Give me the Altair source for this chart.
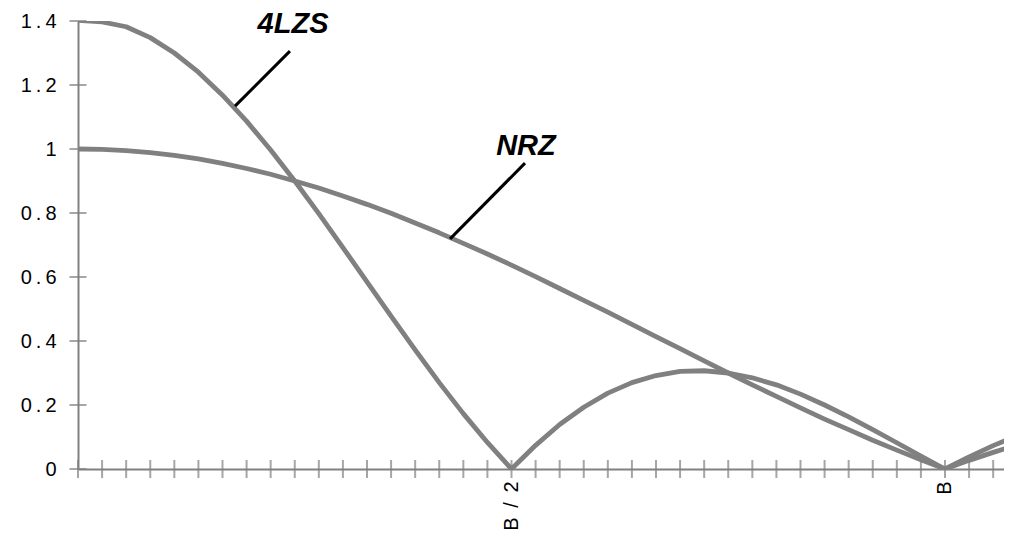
import altair as alt
import pandas as pd

# ---- data (x in tick steps, 18 = B/2, 36 = B) ----
freq_index = list(range(40))
nrz = [1.000, 0.999, 0.995, 0.989, 0.980, 0.969, 0.955, 0.939, 0.921, 0.900,
       0.878, 0.853, 0.827, 0.799, 0.769, 0.738, 0.705, 0.672, 0.637, 0.601,
       0.564, 0.527, 0.490, 0.452, 0.414, 0.376, 0.338, 0.300, 0.263, 0.227,
       0.191, 0.156, 0.123, 0.090, 0.059, 0.029, 0.000, 0.027, 0.052, 0.076]
lzs = [1.402, 1.397, 1.382, 1.348, 1.300, 1.240, 1.168, 1.087, 0.997, 0.900,
       0.798, 0.692, 0.585, 0.478, 0.372, 0.270, 0.173, 0.083, 0.000, 0.074,
       0.139, 0.193, 0.237, 0.270, 0.292, 0.305, 0.307, 0.300, 0.285, 0.263,
       0.234, 0.200, 0.163, 0.123, 0.082, 0.040, 0.000, 0.038, 0.073, 0.104]
series_names = ["NRZ", "4LZS"]

x_tick_values = list(range(39))
x_label_values = [18, 36]
x_label_texts = ["B / 2", "B"]
y_tick_values = [0, 0.2, 0.4, 0.6, 0.8, 1.0, 1.2, 1.4]

# annotations (label text, text anchor, leader line start/end) in data units
ann_text = ["4LZS", "NRZ"]
ann_x = [8.93, 18.60]
ann_y = [1.362, 0.981]
lead_x1 = [8.80, 18.56]
lead_y1 = [1.306, 0.956]
lead_x2 = [6.52, 15.45]
lead_y2 = [1.134, 0.719]

GRAY = "#808080"
FONT = "Liberation Sans"
SP = "\u2009"  # thin space used as extra letter spacing on axis labels

rows = []
for name, vals in zip(series_names, [nrz, lzs]):
    for i, v in zip(freq_index, vals):
        rows.append({"series": name, "i": i, "value": v})
df = pd.DataFrame(rows)

ann_df = pd.DataFrame({"text": ann_text, "x": ann_x, "y": ann_y})
lead_df = pd.DataFrame({"x1": lead_x1, "y1": lead_y1, "x2": lead_x2, "y2": lead_y2})
xt_df = pd.DataFrame({"t": x_tick_values})
yt_df = pd.DataFrame({"t": y_tick_values})

XMAX = 38.45
xscale = alt.Scale(domain=[0, XMAX], nice=False, zero=False)
yscale = alt.Scale(domain=[0, 1.4], nice=False)

x_text_expr = "(" + " : ".join(
    [f"datum.value == {v} ? '{t}'" for v, t in zip(x_label_values, x_label_texts)]
) + " : '')"
x_label_expr = f"replace({x_text_expr}, / /g, ' {SP}')"
y_label_expr = f"join(split(format(datum.value, '.1~f'), ''), '{SP}')"

xaxis = alt.Axis(values=x_label_values, labelExpr=x_label_expr, labelAngle=-90,
                 ticks=False, domain=True, domainColor=GRAY, domainWidth=2,
                 grid=False, title=None, labelFont=FONT, labelFontSize=20,
                 labelColor="black", labelPadding=12)
yaxis = alt.Axis(values=y_tick_values, labelExpr=y_label_expr, ticks=False,
                 domain=True, domainColor=GRAY, domainWidth=2, grid=False,
                 title=None, labelFont=FONT, labelFontSize=20,
                 labelColor="black", labelPadding=22)

lines = alt.Chart(df).mark_line(strokeWidth=4.8, color=GRAY, clip=True,
                                strokeJoin="round").encode(
    x=alt.X("i:Q", scale=xscale, axis=xaxis),
    y=alt.Y("value:Q", scale=yscale, axis=yaxis),
    detail="series:N",
)

xticks = alt.Chart(xt_df).mark_tick(orient="vertical", color=GRAY, thickness=2,
                                    size=18).encode(
    x=alt.X("t:Q", scale=xscale, axis=xaxis),
    y=alt.value(448),
)

yticks = alt.Chart(yt_df).mark_tick(orient="horizontal", color=GRAY, thickness=2,
                                    size=17).encode(
    y=alt.Y("t:Q", scale=yscale, axis=yaxis),
    x=alt.value(0),
)

leaders = alt.Chart(lead_df).mark_rule(color="black", strokeWidth=3).encode(
    x=alt.X("x1:Q", scale=xscale, axis=xaxis),
    y=alt.Y("y1:Q", scale=yscale, axis=yaxis),
    x2="x2:Q",
    y2="y2:Q",
)

labels = alt.Chart(ann_df).mark_text(font=FONT, fontSize=29, fontWeight="bold",
                                     fontStyle="italic", align="center",
                                     baseline="alphabetic", color="black").encode(
    x=alt.X("x:Q", scale=xscale, axis=xaxis),
    y=alt.Y("y:Q", scale=yscale, axis=yaxis),
    text="text:N",
)

chart = alt.layer(lines, xticks, yticks, leaders, labels).properties(
    width=926, height=448,
    autosize=alt.AutoSizeParams(type="none"),
    padding={"left": 70, "top": 13, "right": 0, "bottom": 62},
    background="white",
).configure_view(stroke=None)

chart.save("out.html", embed_options={"renderer": "svg", "actions": False})
